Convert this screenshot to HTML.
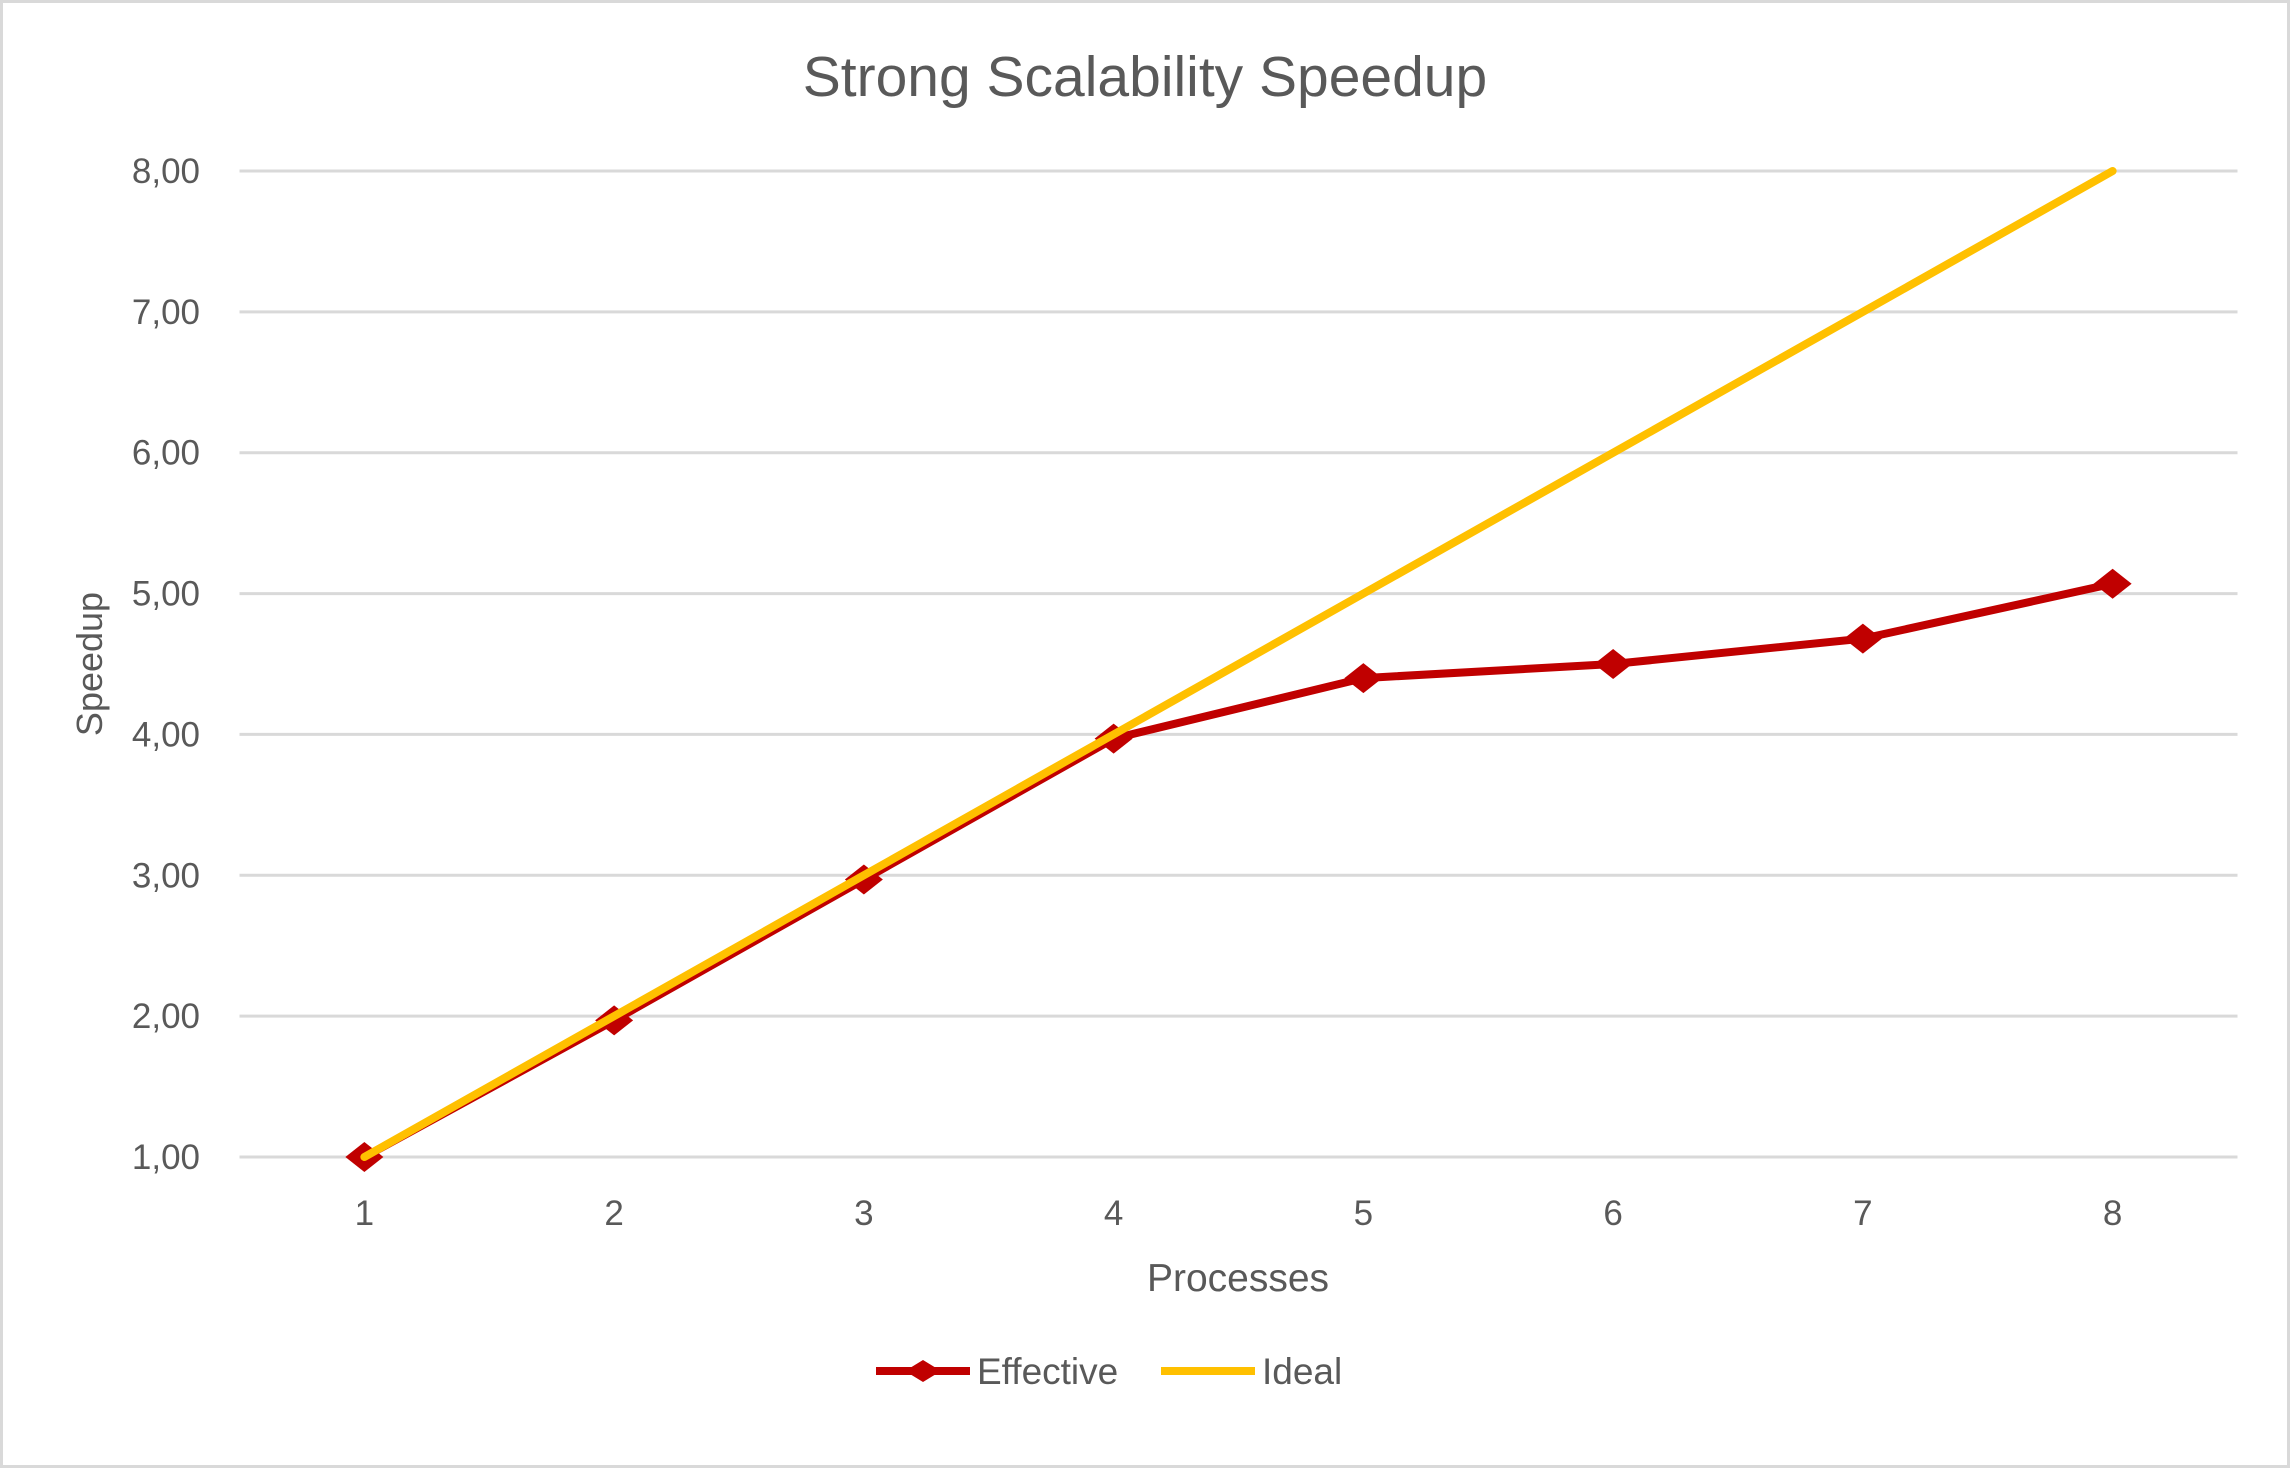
<!DOCTYPE html>
<html><head><meta charset="utf-8"><style>
html,body{margin:0;padding:0;background:#fff;}
svg{display:block;font-family:"Liberation Sans",sans-serif;}
</style></head><body>
<svg id="chart" width="2290" height="1468" viewBox="0 0 2290 1468">
<rect x="1.5" y="1.5" width="2287" height="1465" fill="#fff" stroke="#d9d9d9" stroke-width="3"/>
<text x="1145" y="96" text-anchor="middle" font-size="57" fill="#595959">Strong Scalability Speedup</text>
<g id="grid"></g>
<g id="yticks"></g>
<g id="xticks"></g>
<g id="series"></g>
<text transform="translate(102,664) rotate(-90)" text-anchor="middle" font-size="36" fill="#595959">Speedup</text>
<text x="1238" y="1291" text-anchor="middle" font-size="39" fill="#595959">Processes</text>
<g>
<g>
<line x1="876" y1="1371" x2="970" y2="1371" stroke="#c00000" stroke-width="8"/>
<path d="M905 1371 L923 1360 L941 1371 L923 1382 Z" fill="#c00000"/>
<text x="977" y="1384" font-size="37" fill="#595959">Effective</text>
</g>
<g>
<line x1="1161" y1="1371" x2="1255" y2="1371" stroke="#ffc000" stroke-width="8"/>
<text x="1262" y="1384" font-size="37" fill="#595959">Ideal</text>
</g>
</g>
</svg>
<script>
const categories = [1,2,3,4,5,6,7,8];
const effective = [1.00,1.97,2.97,3.97,4.40,4.50,4.68,5.07];
const ideal = [1,2,3,4,5,6,7,8];
const yTicks = [1,2,3,4,5,6,7,8];
const yTickLabels = ["1,00","2,00","3,00","4,00","5,00","6,00","7,00","8,00"];

const NS="http://www.w3.org/2000/svg";
const left=239.5, right=2237.5, yTop=171, yBot=1157, yMin=1, yMax=8;
const band=(right-left)/categories.length;
function xs(i){return left+band*(i+0.5);}
function ys(v){return yBot-(v-yMin)/(yMax-yMin)*(yBot-yTop);}
function mk(tag,attrs,parent){const e=document.createElementNS(NS,tag);for(const k in attrs)e.setAttribute(k,attrs[k]);parent.appendChild(e);return e;}

const grid=document.getElementById('grid'), yt=document.getElementById('yticks'), xt=document.getElementById('xticks'), ser=document.getElementById('series');
yTicks.forEach((v,i)=>{
  const l=mk('line',{x1:left,x2:right,y1:ys(v),y2:ys(v),stroke:'#d9d9d9','stroke-width':3},grid);
  
  
  const t=mk('text',{x:200,y:ys(v)+12,'text-anchor':'end','font-size':35,fill:'#595959'},yt);
  t.textContent=yTickLabels[i];
  
  
});
categories.forEach((c,i)=>{
  const t=mk('text',{x:xs(i),y:1225,'text-anchor':'middle','font-size':35,fill:'#595959'},xt);
  t.textContent=c;
  
  
});
const effPath=mk('polyline',{points:effective.map((v,i)=>xs(i)+','+ys(v)).join(' '),fill:'none',stroke:'#c00000','stroke-width':8,'stroke-linejoin':'round'},ser);


effective.forEach((v,i)=>{
  const x=xs(i),y=ys(v);
  const d=mk('path',{d:`M${x-19} ${y} L${x} ${y-15} L${x+19} ${y} L${x} ${y+15} Z`,fill:'#c00000'},ser);
  
  
});
const idPath=mk('polyline',{points:ideal.map((v,i)=>xs(i)+','+ys(v)).join(' '),fill:'none',stroke:'#ffc000','stroke-width':8,'stroke-linecap':'round'},ser);


</script>
</body></html>
